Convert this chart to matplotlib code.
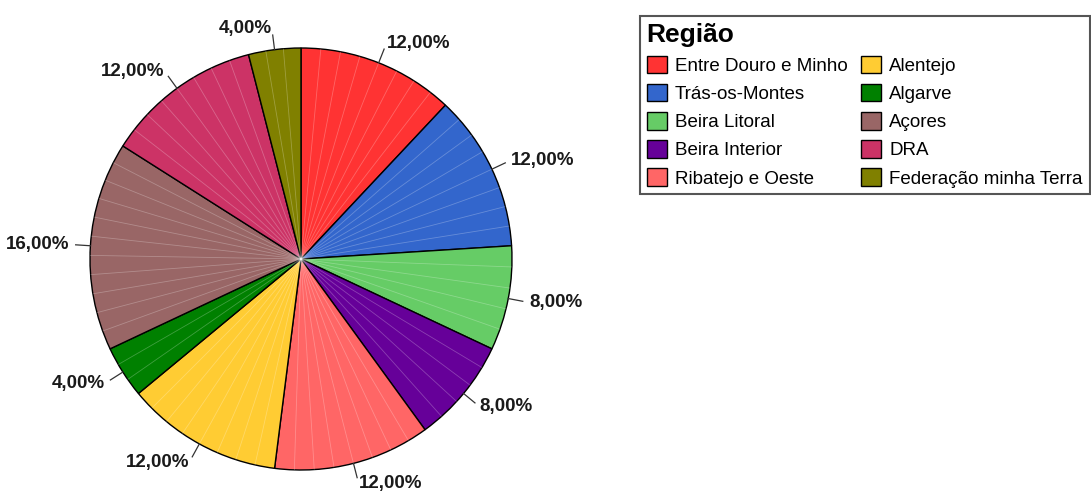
import numpy as np
import matplotlib
matplotlib.use("Agg")
import matplotlib.pyplot as plt
from matplotlib.patches import Patch

# === Data (percent of respondents per region) ===
regioes = ['Entre Douro e Minho', 'Trás-os-Montes', 'Beira Litoral', 'Beira Interior',
           'Ribatejo e Oeste', 'Alentejo', 'Algarve', 'Açores', 'DRA',
           'Federação minha Terra']
percent = [12, 12, 8, 8, 12, 12, 4, 16, 12, 4]
cores = ['#FF3333', '#3366CC', '#66CC66', '#660099', '#FF6666',
         '#FFCC33', '#008000', '#996666', '#CC3366', '#808000']

plt.rcParams['font.family'] = ['Liberation Sans', 'DejaVu Sans']

fig = plt.figure(figsize=(10.91, 4.95), dpi=100)
# square box in pixels for the pie
ax = fig.add_axes([90 / 1091, 25 / 495, 422 / 1091, 422 / 495])

wedges, texts = ax.pie(percent, colors=cores, startangle=90, counterclock=False,
                       radius=1.0, labels=[f'{p:.2f}'.replace('.', ',') + '%' for p in percent],
                       labeldistance=1.1,
                       wedgeprops=dict(edgecolor='black', linewidth=1.0),
                       textprops=dict(fontsize=13.5, fontweight='bold', color='#1a1a1a'))
for t in texts:
    t.set_clip_on(False)

# faint spokes inside the slices + short leader lines
for w in wedges:
    t1, t2 = w.theta1, w.theta2
    n = max(1, int(round((t2 - t1) / 5.4)))
    for a in np.linspace(t1, t2, n + 1)[1:-1]:
        r = np.deg2rad(a)
        ax.plot([0, np.cos(r)], [0, np.sin(r)], color='white', lw=0.6, alpha=0.25,
                solid_capstyle='butt')
    m = np.deg2rad((t1 + t2) / 2)
    ax.plot([np.cos(m), 1.07 * np.cos(m)], [np.sin(m), 1.07 * np.sin(m)],
            color='#333333', lw=0.9, clip_on=False)

ax.set_xlim(-1, 1)
ax.set_ylim(-1, 1)
ax.set_aspect('auto')
ax.axis('off')

# === Legend ===
handles = [Patch(facecolor=c, edgecolor='black', linewidth=1.0) for c in cores]
leg = fig.legend(handles, regioes, ncol=2, loc='upper left',
                 bbox_to_anchor=(640 / 1091, 1 - 16 / 495), borderaxespad=0,
                 fontsize=13.5, title='Região', title_fontproperties={'weight': 'bold', 'size': 19},
                 alignment='left', fancybox=False, edgecolor='#555555', framealpha=1,
                 handlelength=1.07, handleheight=1.07, handletextpad=0.45,
                 labelspacing=0.48, columnspacing=0.7, borderpad=0.35)
leg.get_frame().set_linewidth(1.5)

plt.savefig('out.png', dpi=100)
